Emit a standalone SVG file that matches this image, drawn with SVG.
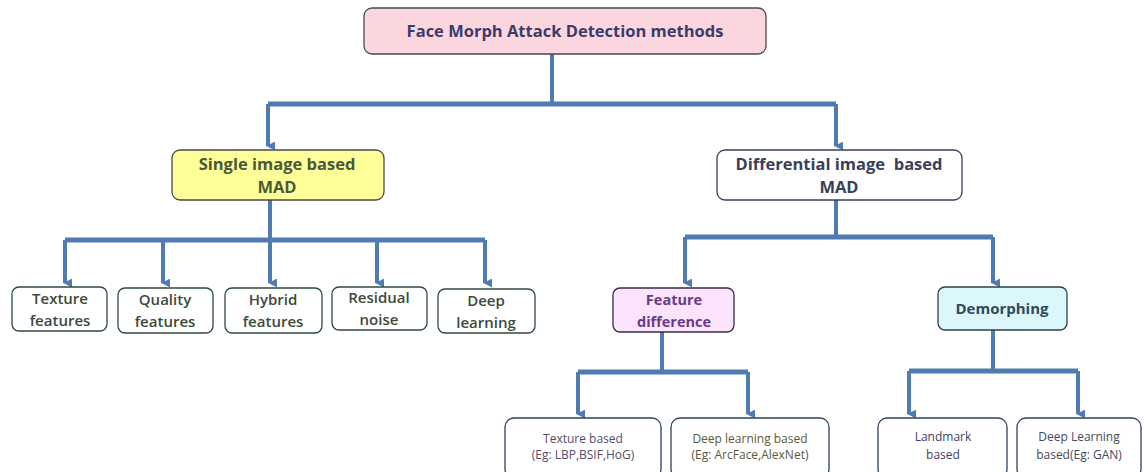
<svg xmlns="http://www.w3.org/2000/svg" width="1144" height="472" viewBox="0 0 1144 472">
<defs>
<marker id="ah" viewBox="0 0 10 10" refX="5" refY="8" markerWidth="2.2" markerHeight="2.2" orient="auto-start-reverse" markerUnits="strokeWidth">
<path d="M0,0 L10,0 L5,10 Z" fill="#4f7bb0"/>
</marker>
<style>
.c{fill:none;stroke:#4f7bb0;stroke-linejoin:round}
.h{stroke-width:5}
.v{stroke-width:4}
.box{stroke-width:1.3}
.t{font-family:"Open Sans","Noto Sans",sans-serif;font-weight:bold;text-anchor:middle}
.l{font-family:"Open Sans","Noto Sans",sans-serif;font-weight:600;text-anchor:middle;font-size:15px;fill:#3b4b3b}
.s{font-family:"Open Sans","Noto Sans",sans-serif;text-anchor:middle;font-size:12px}
</style>
</defs>
<rect width="1144" height="472" fill="#ffffff"/>
<g id="connectors">
<path class="c v" d="M552,54 V104"/>
<path class="c h" d="M268,104 H836"/>
<path class="c v" d="M268,104 V146" marker-end="url(#ah)"/>
<path class="c v" d="M836,104 V146" marker-end="url(#ah)"/>
<path class="c v" d="M270,200 V240"/>
<path class="c h" d="M65,240 H485"/>
<path class="c v" d="M65,240 V283" marker-end="url(#ah)"/>
<path class="c v" d="M163,240 V283" marker-end="url(#ah)"/>
<path class="c v" d="M270,240 V283" marker-end="url(#ah)"/>
<path class="c v" d="M377,240 V283" marker-end="url(#ah)"/>
<path class="c v" d="M485,240 V283" marker-end="url(#ah)"/>
<path class="c v" d="M836,200 V237"/>
<path class="c h" d="M685,237 H993"/>
<path class="c v" d="M685,237 V283" marker-end="url(#ah)"/>
<path class="c v" d="M993,237 V283" marker-end="url(#ah)"/>
<path class="c v" d="M662,332 V372"/>
<path class="c h" d="M578,372 H748"/>
<path class="c v" d="M578,372 V414" marker-end="url(#ah)"/>
<path class="c v" d="M748,372 V414" marker-end="url(#ah)"/>
<path class="c v" d="M993,330 V371"/>
<path class="c h" d="M909,371 H1078"/>
<path class="c v" d="M909,371 V414" marker-end="url(#ah)"/>
<path class="c v" d="M1078,371 V414" marker-end="url(#ah)"/>
</g>
<g id="root">
<rect class="box" x="364" y="8" width="402" height="46" rx="8" fill="#fcd6df" stroke="#4a4a4a"/>
<text class="t" x="565" y="37" font-size="16.5" fill="#3b3b6b">Face Morph Attack Detection methods</text>
</g>
<g id="single">
<rect class="box" x="172" y="150" width="212" height="50" rx="8" fill="#ffff99" stroke="#4a4a4a"/>
<text class="t" x="277" y="170" font-size="16.5" fill="#4a5a3a">Single image based</text>
<text class="t" x="277" y="193" font-size="16.5" fill="#4a5a3a">MAD</text>
</g>
<g id="differential">
<rect class="box" x="717" y="150" width="245" height="50" rx="8" fill="#ffffff" stroke="#3a3f5a"/>
<text class="t" x="839" y="170" font-size="16.5" fill="#3a3f5a" xml:space="preserve">Differential image  based</text>
<text class="t" x="839" y="193" font-size="16.5" fill="#3a3f5a">MAD</text>
</g>
<g id="texture">
<rect class="box" x="12" y="287" width="95" height="44" rx="7" fill="#ffffff" stroke="#2f4a3f"/>
<text class="l" x="60" y="304">Texture</text>
<text class="l" x="60" y="326">features</text>
</g>
<g id="quality">
<rect class="box" x="118" y="288" width="95" height="45" rx="7" fill="#ffffff" stroke="#2f4a3f"/>
<text class="l" x="165" y="305">Quality</text>
<text class="l" x="165" y="327">features</text>
</g>
<g id="hybrid">
<rect class="box" x="225" y="288" width="97" height="45" rx="7" fill="#ffffff" stroke="#2f4a3f"/>
<text class="l" x="273" y="305">Hybrid</text>
<text class="l" x="273" y="327">features</text>
</g>
<g id="residual">
<rect class="box" x="332" y="287" width="95" height="43" rx="7" fill="#ffffff" stroke="#2f4a3f"/>
<text class="l" x="379" y="303">Residual</text>
<text class="l" x="379" y="325">noise</text>
</g>
<g id="deep">
<rect class="box" x="438" y="289" width="97" height="44" rx="7" fill="#ffffff" stroke="#2f4a3f"/>
<text class="l" x="486" y="306">Deep</text>
<text class="l" x="486" y="328">learning</text>
</g>
<g id="featdiff">
<rect class="box" x="613" y="288" width="121" height="44" rx="7" fill="#fce4fc" stroke="#3a2a4a"/>
<text class="t" x="674" y="305" font-size="14.5" fill="#6a3a8a">Feature</text>
<text class="t" x="674" y="327" font-size="14.5" fill="#6a3a8a">difference</text>
</g>
<g id="demorph">
<rect class="box" x="938" y="287" width="129" height="43" rx="7" fill="#dcf7fb" stroke="#2f3f4a"/>
<text class="t" x="1002" y="314" font-size="15" fill="#2f4a5a">Demorphing</text>
</g>
<g id="texbased">
<rect class="box" x="505" y="418" width="156" height="60" rx="9" fill="#ffffff" stroke="#2f3f5a"/>
<text class="s" x="583" y="443" fill="#5a4a6a">Texture based</text>
<text class="s" x="583" y="459" fill="#5a4a6a">(Eg: LBP,BSIF,HoG)</text>
</g>
<g id="dlbased">
<rect class="box" x="671" y="418" width="158" height="60" rx="9" fill="#ffffff" stroke="#2f3f5a"/>
<text class="s" x="750" y="443" fill="#5a5a3a">Deep learning based</text>
<text class="s" x="750" y="459" fill="#5a5a3a">(Eg: ArcFace,AlexNet)</text>
</g>
<g id="landmark">
<rect class="box" x="878" y="418" width="129" height="60" rx="9" fill="#ffffff" stroke="#2f3f5a"/>
<text class="s" x="943" y="441" fill="#3f3f6a">Landmark</text>
<text class="s" x="943" y="459" fill="#3f3f6a">based</text>
</g>
<g id="dlgan">
<rect class="box" x="1017" y="418" width="124" height="60" rx="9" fill="#ffffff" stroke="#2f3f5a"/>
<text class="s" x="1079" y="441" fill="#3f4a5a">Deep Learning</text>
<text class="s" x="1079" y="459" fill="#3f4a5a">based(Eg: GAN)</text>
</g>
</svg>
